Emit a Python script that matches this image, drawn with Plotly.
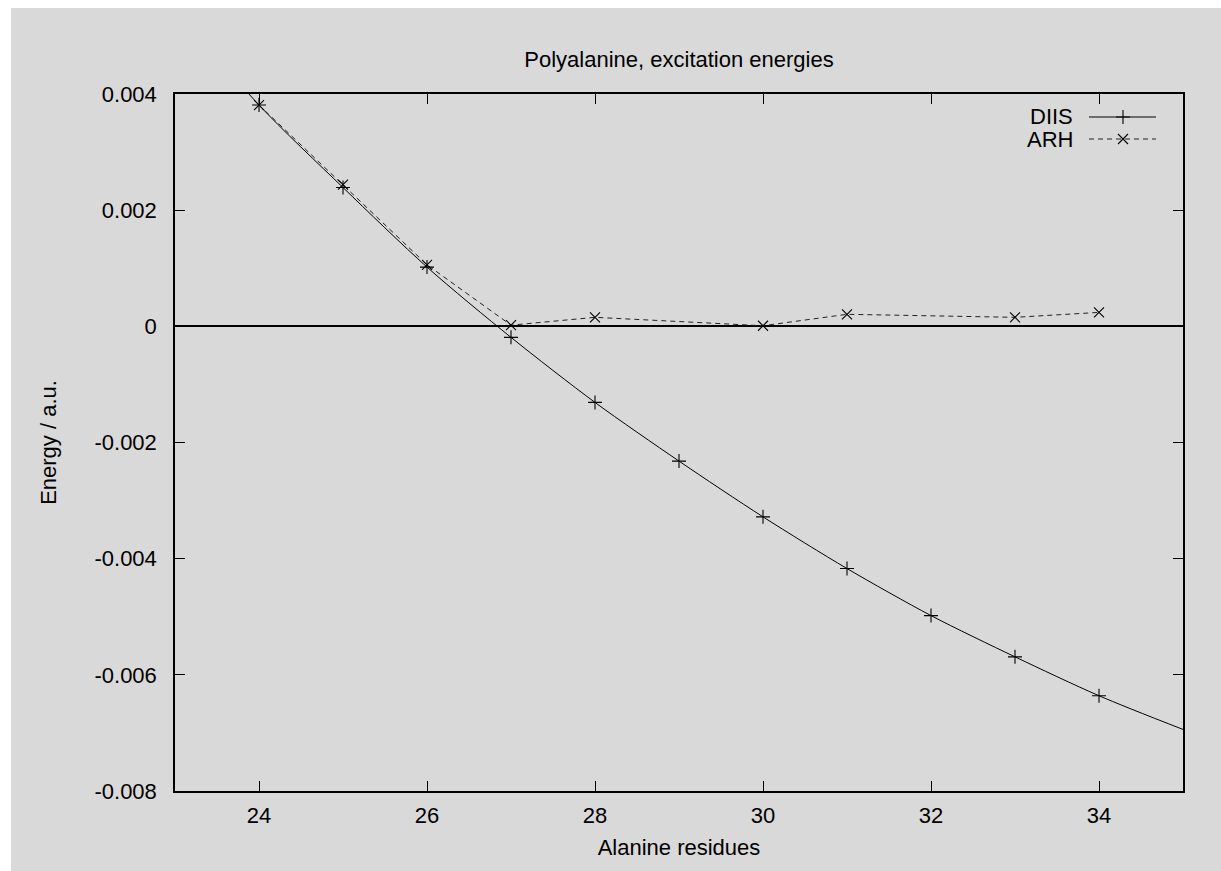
import plotly.graph_objects as go

# Excitation energies (a.u.) versus number of alanine residues
residues = [24, 25, 26, 27, 28, 29, 30, 31, 32, 33, 34]
diis_energy = [0.00381, 0.00239, 0.00102, -0.00019, -0.00131, -0.00232,
               -0.00328, -0.00417, -0.00498, -0.00569, -0.00636]

arh_residues = [24, 25, 26, 27, 28, 30, 31, 33, 34]
arh_energy = [0.00381, 0.00244, 0.00106, 0.00002, 0.000155, 0.00001,
              0.000207, 0.000155, 0.00024]

# DIIS trend curve drawn across the full x range
diis_curve_x = [23] + residues + [35]
diis_curve_y = [0.0055] + diis_energy + [-0.00694]

x_ticks = [24, 26, 28, 30, 32, 34]
x_ticktext = ["24", "26", "28", "30", "32", "34"]
y_ticks = [0.004, 0.002, 0.0, -0.002, -0.004, -0.006, -0.008]
y_ticktext = ["0.004", "0.002", "0", "-0.002", "-0.004", "-0.006", "-0.008"]

series_names = ["DIIS", "ARH"]

BG = "#d9d9d9"
FONT = "Liberation Sans, Arial, sans-serif"
FS = 22

W, H = 1221, 871
ML, MR, MT, MB = 175, 38, 94, 80
PW, PH = W - ML - MR, H - MT - MB

MSIZE = 10
MLW = 1.1


def px_x(px):
    return (px - ML) / PW


def px_y(py):
    return 1 - (py - MT) / PH


fig = go.Figure()

# DIIS smooth curve
fig.add_trace(go.Scatter(
    x=diis_curve_x, y=diis_curve_y, mode="lines",
    line=dict(color="black", width=1, shape="spline", smoothing=0.8),
    showlegend=False, hoverinfo="skip"))
fig.add_trace(go.Scatter(
    x=residues, y=diis_energy, mode="markers", name=series_names[0],
    marker=dict(symbol="cross-thin", size=MSIZE, line=dict(color="black", width=MLW)),
    showlegend=False))

# ARH dashed line with x markers
fig.add_trace(go.Scatter(
    x=arh_residues, y=arh_energy, mode="lines+markers", name=series_names[1],
    line=dict(color="#222222", width=1, dash="5px,4px"),
    marker=dict(symbol="x-thin", size=MSIZE, line=dict(color="black", width=MLW)),
    showlegend=False))

# Key samples on an overlay axis in plot-fraction units
key_x0, key_xm, key_x1 = px_x(1089), px_x(1123), px_x(1156)
key_rows = [px_y(117), px_y(139)]
fig.add_trace(go.Scatter(
    x=[key_x0, key_x1], y=[key_rows[0]] * 2, mode="lines",
    line=dict(color="black", width=1), xaxis="x2", yaxis="y2",
    showlegend=False, hoverinfo="skip"))
fig.add_trace(go.Scatter(
    x=[key_xm], y=[key_rows[0]], mode="markers",
    marker=dict(symbol="cross-thin", size=MSIZE, line=dict(color="black", width=MLW)),
    xaxis="x2", yaxis="y2", showlegend=False, hoverinfo="skip"))
fig.add_trace(go.Scatter(
    x=[key_x0, key_x1], y=[key_rows[1]] * 2, mode="lines",
    line=dict(color="#222222", width=1, dash="5px,4px"), xaxis="x2", yaxis="y2",
    showlegend=False, hoverinfo="skip"))
fig.add_trace(go.Scatter(
    x=[key_xm], y=[key_rows[1]], mode="markers",
    marker=dict(symbol="x-thin", size=MSIZE, line=dict(color="black", width=MLW)),
    xaxis="x2", yaxis="y2", showlegend=False, hoverinfo="skip"))

annotations = []
for name, ky in zip(series_names, key_rows):
    annotations.append(dict(
        text=name, x=px_x(1075), y=ky, xref="paper", yref="paper",
        xanchor="right", yanchor="middle", showarrow=False,
        font=dict(family=FONT, size=FS, color="black")))

# White strips at the top and left edge of the page
shapes = [
    dict(type="rect", xref="paper", yref="paper", layer="below",
         x0=px_x(0), x1=px_x(11), y0=px_y(H), y1=px_y(0),
         fillcolor="white", line=dict(width=0)),
    dict(type="rect", xref="paper", yref="paper", layer="below",
         x0=px_x(0), x1=px_x(W), y0=px_y(8), y1=px_y(0),
         fillcolor="white", line=dict(width=0)),
]

axis_common = dict(
    showline=True, linecolor="black", linewidth=1.5, mirror="ticks",
    ticks="inside", ticklen=10, tickwidth=1.3, tickcolor="black",
    showgrid=False,
    tickfont=dict(family=FONT, size=FS, color="black"),
)

fig.update_layout(
    width=W, height=H,
    margin=dict(l=ML, r=MR, t=MT, b=MB, autoexpand=False),
    paper_bgcolor=BG, plot_bgcolor=BG,
    font=dict(family=FONT, size=FS, color="black"),
    title=dict(text="Polyalanine, excitation energies", x=0.5, xref="paper",
               y=1 - 59 / H, yref="container", xanchor="center", yanchor="middle",
               font=dict(family=FONT, size=FS, color="black")),
    xaxis=dict(range=[23, 35], tickvals=x_ticks, ticktext=x_ticktext,
               zeroline=False, ticklabelstandoff=4,
               title=dict(text="Alanine residues", standoff=12,
                          font=dict(family=FONT, size=FS)),
               **axis_common),
    yaxis=dict(range=[-0.008, 0.004], tickvals=y_ticks, ticktext=y_ticktext,
               zeroline=True, zerolinecolor="black", zerolinewidth=1.5,
               ticklabelstandoff=12,
               title=dict(text="Energy / a.u.", standoff=32,
                          font=dict(family=FONT, size=FS)),
               **axis_common),
    xaxis2=dict(overlaying="x", range=[0, 1], visible=False, fixedrange=True),
    yaxis2=dict(overlaying="y", range=[0, 1], visible=False, fixedrange=True),
    annotations=annotations,
    shapes=shapes,
    showlegend=False,
)

fig.write_html("out.html")
